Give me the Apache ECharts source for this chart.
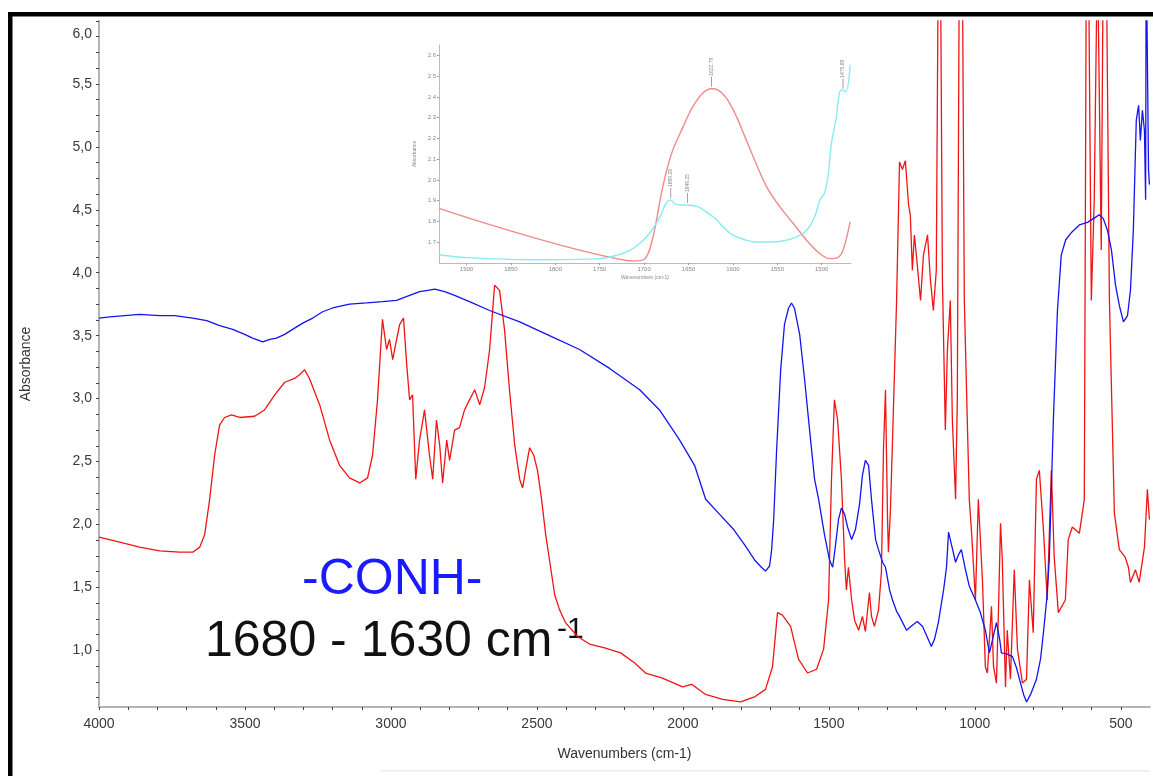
<!DOCTYPE html>
<html lang="en">
<head>
    <meta charset="UTF-8">
    <title>FTIR absorbance</title>
    <style>
        html, body { margin: 0; padding: 0; background: #fff; }
        #main { width: 1153px; height: 776px; }
    </style>
</head>
<body>
<div id="main"></div>
<script src="https://cdn.jsdelivr.net/npm/echarts@6/dist/echarts.min.js"></script>
<script>

// main spectra, [wavenumber (cm-1), absorbance]
const blueSpectrum = [
    [4000,3.64],[3963,3.65],[3912,3.66],[3861,3.67],[3792,3.66],[3741,3.66],[3679,3.64],[3631,3.62],[3587,3.58],
    [3542,3.55],[3501,3.51],[3474,3.48],[3439,3.45],[3415,3.47],[3392,3.48],[3364,3.51],[3337,3.55],[3302,3.60],
    [3268,3.64],[3234,3.69],[3200,3.72],[3142,3.75],[3083,3.76],[3029,3.77],[2981,3.78],[2936,3.82],[2902,3.85],
    [2874,3.86],[2850,3.87],[2833,3.86],[2816,3.85],[2782,3.82],[2731,3.77],[2662,3.70],[2559,3.61],[2457,3.50],
    [2354,3.39],[2251,3.24],[2148,3.07],[2080,2.91],[2011,2.67],[1960,2.47],[1922,2.20],[1874,2.08],[1826,1.96],
    [1789,1.84],[1755,1.72],[1731,1.66],[1717,1.63],[1703,1.67],[1696,1.80],[1689,2.04],[1679,2.59],[1665,3.23],
    [1652,3.59],[1638,3.72],[1628,3.76],[1618,3.72],[1600,3.51],[1583,3.15],[1566,2.75],[1549,2.36],[1535,2.20],
    [1515,1.92],[1498,1.72],[1487,1.66],[1477,1.84],[1467,2.04],[1457,2.13],[1446,2.08],[1436,1.98],[1422,1.88],
    [1409,1.96],[1395,2.16],[1385,2.39],[1375,2.51],[1364,2.47],[1354,2.20],[1340,1.88],[1330,1.80],[1316,1.70],
    [1306,1.66],[1292,1.48],[1282,1.40],[1268,1.31],[1258,1.27],[1234,1.16],[1214,1.20],[1197,1.23],[1179,1.19],
    [1162,1.10],[1149,1.03],[1138,1.09],[1125,1.22],[1107,1.48],[1097,1.66],[1090,1.94],[1080,1.84],[1066,1.70],
    [1056,1.76],[1046,1.80],[1032,1.64],[1019,1.51],[998,1.40],[981,1.30],[964,1.16],[950,0.98],[939,1.09],
    [926,1.22],[915,1.09],[909,0.98],[889,0.97],[871,0.95],[857,0.86],[847,0.77],[833,0.65],[823,0.59],[809,0.65],
    [789,0.77],[775,0.93],[765,1.14],[754,1.40],[745,1.72],[731,2.83],[717,3.70],[704,4.14],[689,4.26],[669,4.32],
    [642,4.38],[614,4.40],[594,4.43],[574,4.46],[560,4.43],[546,4.34],[532,4.18],[518,3.90],[505,3.74],[491,3.61],
    [477,3.66],[467,3.86],[457,4.34],[447,5.21],[439,5.33],[433,5.05],[426,5.29],[419,5.13],[415,4.58],[413,6.6],
    [409,6.6],[405,4.82],[402,4.70]
];

const redSpectrum = [
    [4000,1.90],[3929,1.86],[3861,1.82],[3792,1.79],[3724,1.78],[3679,1.78],[3655,1.82],[3638,1.92],[3621,2.20],
    [3604,2.55],[3587,2.79],[3570,2.85],[3546,2.87],[3518,2.85],[3467,2.86],[3433,2.91],[3398,3.03],[3364,3.13],
    [3330,3.16],[3313,3.19],[3296,3.23],[3279,3.16],[3244,2.95],[3210,2.67],[3176,2.47],[3142,2.37],[3107,2.33],
    [3080,2.37],[3063,2.55],[3046,2.99],[3029,3.63],[3015,3.39],[3005,3.47],[2994,3.31],[2984,3.43],[2970,3.59],
    [2957,3.64],[2946,3.27],[2936,2.99],[2926,3.03],[2915,2.36],[2902,2.67],[2885,2.91],[2868,2.55],[2857,2.36],
    [2844,2.83],[2833,2.63],[2823,2.33],[2809,2.67],[2799,2.51],[2782,2.75],[2765,2.77],[2748,2.91],[2731,2.99],
    [2713,3.07],[2696,2.95],[2679,3.09],[2662,3.39],[2645,3.90],[2628,3.86],[2611,3.55],[2594,3.07],[2576,2.63],
    [2559,2.36],[2549,2.29],[2539,2.43],[2525,2.61],[2511,2.55],[2498,2.43],[2484,2.20],[2470,1.92],[2457,1.72],
    [2439,1.44],[2422,1.32],[2402,1.22],[2361,1.11],[2320,1.05],[2268,1.02],[2213,0.98],[2165,0.90],[2128,0.82],
    [2070,0.78],[2001,0.71],[1970,0.73],[1922,0.65],[1864,0.61],[1802,0.59],[1755,0.63],[1717,0.69],[1693,0.87],
    [1676,1.30],[1659,1.28],[1631,1.19],[1604,0.93],[1573,0.82],[1542,0.85],[1518,1.01],[1501,1.40],[1491,2.36],
    [1481,2.99],[1470,2.83],[1457,2.36],[1446,1.72],[1440,1.48],[1433,1.66],[1422,1.40],[1412,1.24],[1398,1.16],
    [1385,1.27],[1375,1.15],[1361,1.46],[1354,1.27],[1344,1.19],[1330,1.32],[1320,1.62],[1313,2.59],[1306,3.07],
    [1299,2.04],[1296,1.78],[1289,2.12],[1282,2.67],[1268,3.78],[1258,4.88],[1248,4.82],[1238,4.89],[1227,4.54],
    [1221,4.46],[1214,4.02],[1207,4.30],[1197,4.06],[1186,3.78],[1176,4.14],[1162,4.30],[1152,3.94],[1142,3.70],
    [1132,4.02],[1125,6.6],[1118,6.6],[1111,3.94],[1101,2.75],[1094,3.39],[1084,3.78],[1077,2.83],[1066,2.20],
    [1060,2.99],[1053,6.6],[1043,6.6],[1036,3.78],[1025,2.75],[1019,2.20],[1011,1.93],[998,1.40],[988,2.20],
    [974,1.56],[964,0.87],[957,0.82],[943,1.35],[936,0.87],[926,0.74],[919,1.32],[912,2.01],[906,1.72],[895,0.71],
    [889,1.16],[878,0.77],[865,1.64],[854,1.01],[837,0.74],[823,0.77],[813,1.56],[800,1.14],[789,2.36],[779,2.43],
    [765,1.96],[752,1.40],[738,2.43],[728,1.74],[714,1.30],[690,1.40],[680,1.88],[666,1.98],[642,1.93],[625,2.20],
    [618,6.6],[611,6.6],[601,3.78],[591,4.58],[580,6.6],[574,6.6],[567,4.18],[560,6.6],[550,6.6],[539,3.78],
    [522,2.09],[505,1.80],[485,1.74],[474,1.66],[467,1.54],[450,1.64],[437,1.54],[419,1.82],[409,2.28],[402,2.04]
];

// inset (amide I zoom)
const insetRed = [
    [1931,1.863],[1720,1.612],[1712,1.610],[1699,1.621],[1690,1.726],[1679,1.967],[1669,2.128],[1656,2.257],
    [1645,2.354],[1634,2.418],[1624,2.439],[1617,2.434],[1606,2.386],[1596,2.305],[1585,2.193],[1574,2.080],
    [1562,1.967],[1547,1.870],[1532,1.790],[1517,1.710],[1502,1.645],[1491,1.621],[1482,1.626],[1476,1.661],
    [1468,1.798]
];
const insetCyan = [
    [1931,1.640],[1900,1.626],[1825,1.616],[1750,1.621],[1731,1.637],[1716,1.661],[1705,1.694],[1694,1.742],
    [1682,1.822],[1675,1.890],[1670,1.903],[1666,1.887],[1660,1.879],[1651,1.879],[1639,1.870],[1630,1.846],
    [1620,1.814],[1611,1.774],[1600,1.734],[1585,1.710],[1574,1.701],[1559,1.701],[1544,1.706],[1528,1.726],
    [1517,1.758],[1508,1.822],[1502,1.903],[1497,1.935],[1493,2.015],[1489,2.177],[1484,2.289],[1478,2.434],
    [1473,2.426],[1468,2.555]
];
const insetRedPeaks = [[1624, 2.439, '1622.79']];
const insetCyanPeaks = [[1670, 1.903, '1669.28'], [1651, 1.879, '1649.25'], [1476, 2.43, '1475.88']];

const xLabels = [4000, 3500, 3000, 2500, 2000, 1500, 1000, 500];
const yLabels = [1.0, 1.5, 2.0, 2.5, 3.0, 3.5, 4.0, 4.5, 5.0, 5.5, 6.0];
const insetXLabels = [1900, 1850, 1800, 1750, 1700, 1650, 1600, 1550, 1500];
const insetYLabels = [1.7, 1.8, 1.9, 2.0, 2.1, 2.2, 2.3, 2.4, 2.5, 2.6];

let xTicks = []
for (let v = 500; v <= 4000; v += 100) xTicks.push(v)
let yTicks = []
for (let v = 0.625; v <= 6.0001; v += 0.125) yTicks.push(+v.toFixed(3))

const FONT = '"Liberation Sans", Arial, sans-serif'
const AXIS_GREY = '#b4b4b4'

let chartDom = document.getElementById('main');
let myChart = echarts.init(chartDom);

function peakMarks(peaks) {
    return {
        symbol: 'rect',
        symbolSize: [0.8, 10],
        symbolOffset: [0, -7],
        itemStyle: {color: '#8a8a8a'},
        label: {
            show: true, position: 'top', distance: 1, rotate: 90,
            align: 'left', verticalAlign: 'middle',
            fontSize: 5, color: '#8a8a8a', fontFamily: FONT,
            formatter: p => p.name
        },
        data: peaks.map(p => ({name: p[2], coord: [p[0], p[1]]}))
    }
}

let option = {
    animation: false,
    backgroundColor: '#fff',
    grid: [
        {left: 99, right: 3, top: 21, bottom: 69},
        {left: 439, top: 45, width: 412, height: 218}
    ],
    xAxis: [
        {
            type: 'value', inverse: true, min: 400, max: 4000,
            name: 'Wavenumbers (cm-1)', nameLocation: 'middle', nameGap: 40,
            nameTextStyle: {fontSize: 14, color: '#333', fontFamily: FONT},
            axisLine: {lineStyle: {color: AXIS_GREY, width: 2}},
            axisTick: {customValues: xTicks, length: 3, lineStyle: {color: '#444'}},
            axisLabel: {customValues: xLabels, fontSize: 14, color: '#3a3a3a', margin: 10, fontFamily: FONT,
                formatter: v => String(v)},
            splitLine: {show: false}
        },
        {
            gridIndex: 1, type: 'value', inverse: true, min: 1467, max: 1931,
            name: 'Wavenumbers (cm-1)', nameLocation: 'middle', nameGap: 12,
            nameTextStyle: {fontSize: 5, color: '#888', fontFamily: FONT},
            axisLine: {lineStyle: {color: '#bbb', width: 1}},
            axisTick: {customValues: insetXLabels, length: 2, lineStyle: {color: '#999'}},
            axisLabel: {customValues: insetXLabels, fontSize: 6, color: '#888', margin: 3, fontFamily: FONT,
                formatter: v => String(v)},
            splitLine: {show: false}
        }
    ],
    yAxis: [
        {
            type: 'value', min: 0.55, max: 6.0,
            name: 'Absorbance', nameLocation: 'middle', nameGap: 66, nameRotate: 90,
            nameTextStyle: {fontSize: 14, color: '#333', fontFamily: FONT},
            axisLine: {show: true, lineStyle: {color: AXIS_GREY, width: 2}},
            axisTick: {show: true, customValues: yTicks, length: 3, lineStyle: {color: '#444'}},
            axisLabel: {
                customValues: yLabels, fontSize: 14, color: '#3a3a3a', margin: 7, fontFamily: FONT,
                formatter: v => {
                    let s = v.toFixed(1).replace('.', ',')
                    return v >= 6 ? '{t|' + s + '}' : s
                },
                rich: {t: {padding: [26, 0, 0, 0], fontSize: 14, color: '#3a3a3a', fontFamily: FONT}}
            },
            splitLine: {show: false}
        },
        {
            gridIndex: 1, type: 'value', min: 1.6, max: 2.65,
            name: 'Absorbance', nameLocation: 'middle', nameGap: 22, nameRotate: 90,
            nameTextStyle: {fontSize: 5, color: '#888', fontFamily: FONT},
            axisLine: {show: true, lineStyle: {color: '#bbb', width: 1}},
            axisTick: {show: true, customValues: insetYLabels, length: 2, lineStyle: {color: '#999'}},
            axisLabel: {customValues: insetYLabels, fontSize: 6, color: '#888', margin: 3, fontFamily: FONT,
                formatter: v => v.toFixed(1)},
            splitLine: {show: false}
        }
    ],
    series: [
        {
            type: 'line', data: redSpectrum, symbol: 'none', clip: true,
            lineStyle: {color: '#f01414', width: 1.3}
        },
        {
            type: 'line', data: blueSpectrum, symbol: 'none', clip: true,
            lineStyle: {color: '#1414ee', width: 1.3}
        },
        {
            type: 'line', xAxisIndex: 1, yAxisIndex: 1, data: insetRed, symbol: 'none', smooth: 0.35,
            lineStyle: {color: '#f08a8a', width: 1.4},
            markPoint: peakMarks(insetRedPeaks)
        },
        {
            type: 'line', xAxisIndex: 1, yAxisIndex: 1, data: insetCyan, symbol: 'none', smooth: 0.35,
            lineStyle: {color: '#86ecf2', width: 1.4},
            markPoint: peakMarks(insetCyanPeaks)
        }
    ],
    graphic: [
        // frame pieces of the original figure
        {type: 'rect', shape: {x: 8, y: 12, width: 1145, height: 4.5}, style: {fill: '#000'}},
        {type: 'rect', shape: {x: 8, y: 12, width: 4.5, height: 764}, style: {fill: '#000'}},
        {type: 'rect', shape: {x: 380, y: 770, width: 770, height: 1.5}, style: {fill: '#ececec'}},
        {
            type: 'text', x: 302, y: 580,
            style: {text: '-CONH-', fontSize: 50, fontFamily: FONT, fill: '#1a1aff', align: 'left', verticalAlign: 'middle'}
        },
        {
            type: 'text', x: 205, y: 642,
            style: {text: '1680 - 1630 cm', fontSize: 50, fontFamily: FONT, fill: '#111', align: 'left', verticalAlign: 'middle'}
        },
        {
            type: 'text', x: 557, y: 630,
            style: {text: '-1', fontSize: 30, fontFamily: FONT, fill: '#111', align: 'left', verticalAlign: 'middle'}
        }
    ]
};

option && myChart.setOption(option);

</script>
</body>
</html>
